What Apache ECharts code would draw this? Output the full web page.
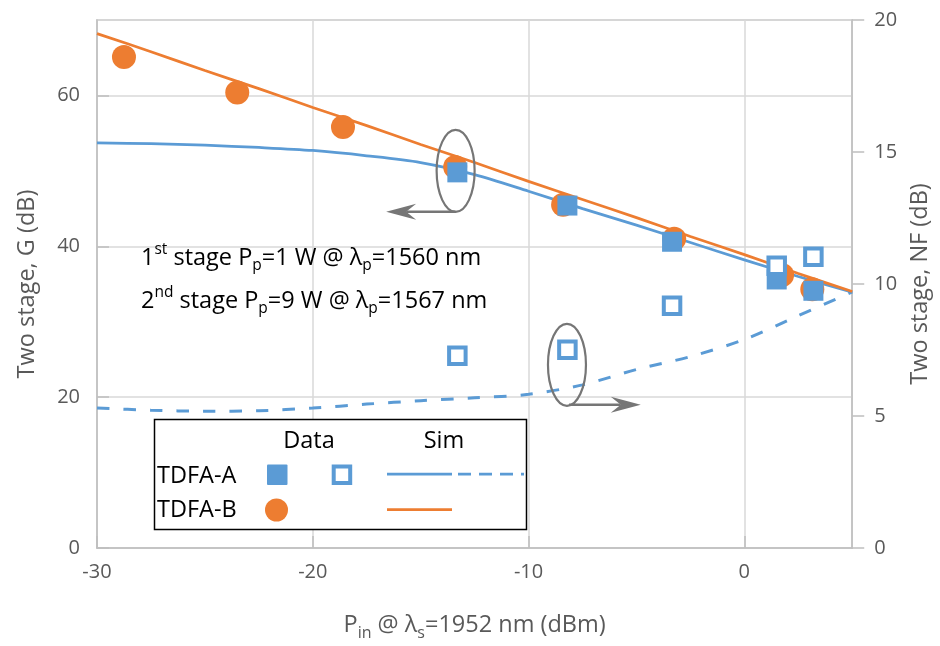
<!DOCTYPE html>
<html><head><meta charset="utf-8">
<script src="https://cdn.jsdelivr.net/npm/echarts@6/dist/echarts.min.js"></script>
<style>html,body{margin:0;padding:0;background:#fff}#c{width:940px;height:646px}</style>
</head><body><div id="c"></div>
<script>
const FONT = 'Open Sans';
const BLUE = '#5B9BD5', ORANGE = '#ED7D31', GREY_AX = '#BFBFBF', GRID = '#D9D9D9', TXT = '#595959', ANN = '#767676';

// Simulation curves
const xSim   = [-30, -27.5, -25, -22.5, -20, -17.5, -15, -12.5, -10, -7.5, -5, -2.5, 0, 2.5, 5];
const gSimA  = [53.7, 53.6, 53.4, 53.1, 52.7, 52.0, 51.1, 49.5, 47.3, 45.0, 42.8, 40.5, 38.2, 36.0, 33.9];
const gSimB  = [68.2, 65.8, 63.3, 60.9, 58.4, 56.0, 53.5, 51.1, 48.6, 46.2, 43.8, 41.3, 38.9, 36.4, 34.0];
const nfSimA = [5.30, 5.22, 5.18, 5.20, 5.30, 5.45, 5.58, 5.69, 5.82, 6.18, 6.76, 7.25, 7.90, 8.80, 9.70];

// Measured data
const xDataA  = [-13.3, -8.2, -3.35, 1.5, 3.2];
const gDataA  = [49.8, 45.4, 40.6, 35.6, 34.1];
const nfDataA = [7.28, 7.51, 9.18, 10.69, 11.03];
const xDataB  = [-28.75, -23.5, -18.6, -13.4, -8.4, -3.25, 1.75, 3.15];
const gDataB  = [65.1, 60.4, 55.8, 50.5, 45.5, 41.0, 36.2, 34.3];

// Axis settings
const xRange = [-30, 5], xStep = 10;
const gRange = [0, 70], gStep = 20;
const nfRange = [0, 20], nfStep = 5;

const zip = (xs, ys) => xs.map((x, i) => [x, ys[i]]);

const chart = echarts.init(document.getElementById('c'), null, {renderer: 'canvas'});
const labelStyle = {color: TXT, fontSize: 20, fontFamily: FONT};
const TITLE = 23.5;
const nameRich = {
  a: {color: TXT, fontSize: TITLE, fontFamily: FONT},
  b: {color: TXT, fontSize: 16, fontFamily: FONT, padding: [16, 0, 0, 0]}
};

chart.setOption({
  animation: false,
  textStyle: {fontFamily: FONT},
  grid: {left: 97, right: 87, top: 20, bottom: 97, show: true, borderColor: GREY_AX, borderWidth: 1.5},
  xAxis: {
    type: 'value', min: xRange[0], max: xRange[1], interval: xStep,
    axisLine: {onZero: false, lineStyle: {color: GREY_AX, width: 1.5}},
    axisTick: {inside: true, length: 12, lineStyle: {color: GREY_AX, width: 1.5}},
    axisLabel: Object.assign({margin: 14, showMaxLabel: false}, labelStyle),
    splitLine: {show: true, lineStyle: {color: GRID, width: 1.5}},
    name: '{a|P}{b|in}{a| @ λ}{b|s}{a|=1952 nm (dBm)}',
    nameLocation: 'middle', nameGap: 61,
    nameTextStyle: {rich: nameRich}
  },
  yAxis: [{
    type: 'value', min: gRange[0], max: gRange[1], interval: gStep, position: 'left',
    axisLine: {show: true, onZero: false, lineStyle: {color: GREY_AX, width: 1.5}},
    axisTick: {show: true, inside: true, length: 12, lineStyle: {color: GREY_AX, width: 1.5}},
    axisLabel: Object.assign({margin: 17, showMaxLabel: false}, labelStyle),
    splitLine: {show: true, lineStyle: {color: GRID, width: 1.5}},
    name: 'Two stage, G (dB)', nameLocation: 'middle', nameGap: 58,
    nameTextStyle: {color: TXT, fontSize: TITLE, fontFamily: FONT}
  }, {
    type: 'value', min: nfRange[0], max: nfRange[1], interval: nfStep, position: 'right',
    axisLine: {show: true, onZero: false, lineStyle: {color: GREY_AX, width: 1.5}},
    axisTick: {show: true, inside: false, length: 12, lineStyle: {color: GREY_AX, width: 1.5}},
    axisLabel: Object.assign({margin: 22}, labelStyle),
    splitLine: {show: false},
    name: 'Two stage, NF (dB)', nameLocation: 'middle', nameGap: 54,
    nameTextStyle: {color: TXT, fontSize: TITLE, fontFamily: FONT}
  }],
  series: [
    {type: 'line', name: 'TDFA-A Sim G', yAxisIndex: 0, data: zip(xSim, gSimA), smooth: 0.3, showSymbol: false,
     lineStyle: {color: BLUE, width: 2.75}, z: 2},
    {type: 'line', name: 'TDFA-B Sim G', yAxisIndex: 0, data: zip(xSim, gSimB), smooth: 0.3, showSymbol: false,
     lineStyle: {color: ORANGE, width: 2.75}, z: 3},
    {type: 'line', name: 'TDFA-A Sim NF', yAxisIndex: 1, data: zip(xSim, nfSimA), smooth: 0.3, showSymbol: false,
     lineStyle: {color: BLUE, width: 3, type: [12.5, 14]}, z: 2},
    {type: 'scatter', name: 'TDFA-B Data G', yAxisIndex: 0, data: zip(xDataB, gDataB), symbol: 'circle', symbolSize: 24,
     itemStyle: {color: ORANGE, opacity: 1}, z: 4},
    {type: 'scatter', name: 'TDFA-A Data G', yAxisIndex: 0, data: zip(xDataA, gDataA), symbol: 'rect', symbolSize: 20,
     itemStyle: {color: BLUE, opacity: 1}, z: 5},
    {type: 'scatter', name: 'TDFA-A Data NF', yAxisIndex: 1, data: zip(xDataA, nfDataA), symbol: 'rect', symbolSize: 16.5,
     itemStyle: {color: '#fff', borderColor: BLUE, borderWidth: 4, opacity: 1}, z: 6}
  ]
});

// Annotations (ellipses + arrows) anchored in data coordinates
const px = (yi, p) => chart.convertToPixel({xAxisIndex: 0, yAxisIndex: yi}, p);
const e1 = px(0, [-13.38, 50.0]);
const a1 = px(0, [-16.6, 44.6]);
const e2 = px(1, [-8.22, 6.94]);
const a2 = px(1, [-4.8, 5.43]);
const RX = 19, RY = 41;
function arrowHead(tipX, tipY, dir) {
  const L = 30, H = 8, N = 20;
  return [[tipX, tipY], [tipX - dir * L, tipY - H], [tipX - dir * N, tipY], [tipX - dir * L, tipY + H]];
}
const annStyle = {stroke: ANN, lineWidth: 2.2, fill: null};
const g = [];
g.push({type: 'ellipse', shape: {cx: e1[0], cy: e1[1], rx: RX, ry: RY}, style: annStyle, z: 100});
g.push({type: 'line', shape: {x1: e1[0], y1: e1[1] + RY, x2: a1[0] + 20, y2: e1[1] + RY}, style: {stroke: ANN, lineWidth: 2.5}, z: 100});
g.push({type: 'polygon', shape: {points: arrowHead(a1[0], e1[1] + RY, -1)}, style: {fill: ANN}, z: 100});
g.push({type: 'ellipse', shape: {cx: e2[0], cy: e2[1], rx: RX, ry: RY}, style: annStyle, z: 100});
g.push({type: 'line', shape: {x1: e2[0] + 2, y1: e2[1] + RY - 1, x2: a2[0] - 20, y2: e2[1] + RY - 1}, style: {stroke: ANN, lineWidth: 2.5}, z: 100});
g.push({type: 'polygon', shape: {points: arrowHead(a2[0], e2[1] + RY - 1, 1)}, style: {fill: ANN}, z: 100});

// Annotation text block
const AF = 23.5;
const annRich = {
  n: {fontSize: AF, fontFamily: FONT, color: '#000'},
  sup: {fontSize: 15.5, fontFamily: FONT, color: '#000', padding: [0, 0, 16, 0]},
  sub: {fontSize: 15.5, fontFamily: FONT, color: '#000', padding: [16, 0, 0, 0]}
};
g.push({type: 'text', left: 141, top: 242, z: 100,
  style: {text: '{n|1}{sup|st}{n| stage P}{sub|p}{n|=1 W @ λ}{sub|p}{n|=1560 nm}', rich: annRich, fill: '#000'}});
g.push({type: 'text', left: 141, top: 285, z: 100,
  style: {text: '{n|2}{sup|nd}{n| stage P}{sub|p}{n|=9 W @ λ}{sub|p}{n|=1567 nm}', rich: annRich, fill: '#000'}});

// Legend box
const LX = 154.5, LY = 419.5, LW = 372, LH = 110;
g.push({type: 'rect', shape: {x: LX, y: LY, width: LW, height: LH}, style: {fill: '#fff', stroke: '#000', lineWidth: 1.5}, z: 90});
const legFont = {fontSize: AF, fontFamily: FONT, fill: '#000'};
g.push({type: 'text', x: 309, y: 441, z: 100, style: Object.assign({text: 'Data', align: 'center', verticalAlign: 'middle'}, legFont)});
g.push({type: 'text', x: 444, y: 441, z: 100, style: Object.assign({text: 'Sim', align: 'center', verticalAlign: 'middle'}, legFont)});
g.push({type: 'text', x: 157, y: 476, z: 100, style: Object.assign({text: 'TDFA-A', align: 'left', verticalAlign: 'middle'}, legFont)});
g.push({type: 'text', x: 157, y: 510, z: 100, style: Object.assign({text: 'TDFA-B', align: 'left', verticalAlign: 'middle'}, legFont)});
g.push({type: 'rect', shape: {x: 267, y: 464.5, width: 20.5, height: 20.5, r: 1}, style: {fill: BLUE}, z: 100});
g.push({type: 'rect', shape: {x: 333.7, y: 466.5, width: 16.5, height: 16.5}, style: {fill: '#fff', stroke: BLUE, lineWidth: 4}, z: 100});
g.push({type: 'line', shape: {x1: 387, y1: 474, x2: 452, y2: 474}, style: {stroke: BLUE, lineWidth: 2.75}, z: 100});
g.push({type: 'line', shape: {x1: 458, y1: 474, x2: 524, y2: 474}, style: {stroke: BLUE, lineWidth: 2.75, lineDash: [13, 8]}, z: 100});
g.push({type: 'circle', shape: {cx: 276.5, cy: 510, r: 11.5}, style: {fill: ORANGE}, z: 100});
g.push({type: 'line', shape: {x1: 387, y1: 509.5, x2: 452, y2: 509.5}, style: {stroke: ORANGE, lineWidth: 2.75}, z: 100});

chart.setOption({graphic: g});
</script>
</body></html>
